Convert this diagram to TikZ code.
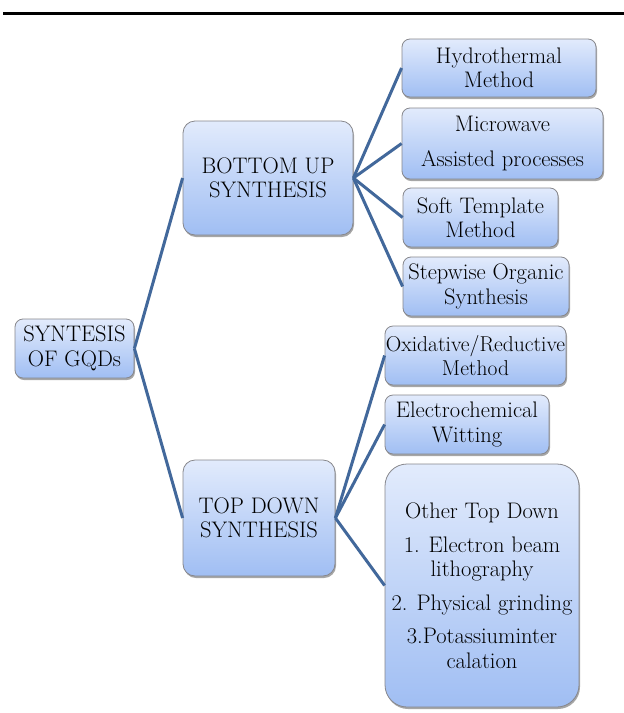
\documentclass[tikz,border=0pt]{standalone}
\usetikzlibrary{shadows}
\definecolor{boxtop}{RGB}{226,235,252}
\definecolor{boxbot}{RGB}{160,190,243}
\definecolor{boxedge}{RGB}{135,135,140}
\definecolor{linkc}{RGB}{66,104,155}
\tikzset{
  gbox/.style={draw=boxedge, line width=0.8pt, rounded corners=8pt,
    top color=boxtop, bottom color=boxbot, inner sep=0pt, align=center,
    font=\fontsize{22.5}{24.5}\selectfont,
    drop shadow={shadow xshift=1pt, shadow yshift=-2pt, opacity=0.35, fill=black}},
  link/.style={draw=linkc, line width=3pt}
}
\begin{document}
\begin{tikzpicture}[x=1pt,y=-1pt]
\useasboundingbox (0,0) rectangle (624,713);
\fill[white] (0,0) rectangle (624,713);
\draw[line width=3pt] (3,13) -- (624,13);

\node[gbox, minimum width=119pt, minimum height=59pt] (root) at (74.5,348.5) {SYNTESIS\\OF GQDs};
\node[gbox, minimum width=170pt, minimum height=114pt, rounded corners=12pt] (bu) at (268,178) {BOTTOM UP\\SYNTHESIS};
\node[gbox, minimum width=152pt, minimum height=116pt, rounded corners=12pt] (td) at (259,518) {TOP DOWN\\SYNTHESIS};

\node[gbox, minimum width=194pt, minimum height=58pt] (hy) at (499,68) {Hydrothermal\\Method};
\node[gbox, minimum width=201pt, minimum height=71pt] (mw) at (502.5,143.5) {Microwave\\[10pt]Assisted processes};
\node[gbox, minimum width=155pt, minimum height=59pt] (st) at (480.5,217.5) {Soft Template\\Method};
\node[gbox, minimum width=166pt, minimum height=59pt] (so) at (486,286.5) {Stepwise Organic\\Synthesis};

\node[gbox, minimum width=181pt, minimum height=59pt, font=\fontsize{21.5}{24.5}\selectfont] (ox) at (475.5,355.5) {Oxidative/Reductive\\Method};
\node[gbox, minimum width=164pt, minimum height=59pt] (ec) at (467,424.5) {Electrochemical\\Witting};
\node[gbox, minimum width=194pt, minimum height=243pt, rounded corners=22pt] (ot) at (482,585.5)
  {Other Top Down\\[9pt]1. Electron beam\\lithography\\[9pt]2. Physical grinding\\[9pt]3.Potassiuminter\\calation};

\draw[link] (root.east) -- (bu.west);
\draw[link] (root.east) -- (td.west);
\draw[link] (bu.east) -- (hy.west);
\draw[link] (bu.east) -- (mw.west);
\draw[link] (bu.east) -- (st.west);
\draw[link] (bu.east) -- (so.west);
\draw[link] (td.east) -- (ox.west);
\draw[link] (td.east) -- (ec.west);
\draw[link] (td.east) -- (ot.west);
\end{tikzpicture}
\end{document}
